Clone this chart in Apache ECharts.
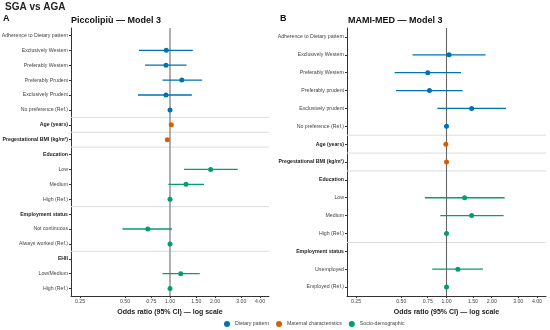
<!DOCTYPE html>
<html><head><meta charset="utf-8">
<script src="https://cdn.jsdelivr.net/npm/echarts@6/dist/echarts.min.js"></script>
<style>html,body{margin:0;padding:0;background:#fff}#c{width:550px;height:330px}</style>
</head><body><div id="c"></div>
<script>
// ---- Panel A: Piccolipiù — Model 3 ----
const catsA = ['Adherence to Dietary pattern','Exclusively Western','Preferably Western','Preferably Prudent','Exclusively Prudent','No preference (Ref.)','Age (years)','Pregestational BMI (kg/m²)','Education','Low','Medium','High (Ref.)','Employment status','Not continuous','Always worked (Ref.)','EHII','Low/Medium','High (Ref.)'];
const groupA = [0,0,0,0,0,0,1,1,2,2,2,2,2,2,2,2,2,2];
const boldA = [false,false,false,false,false,false,true,true,true,false,false,false,true,false,false,true,false,false];
const orA = [null,0.945,0.94,1.20,0.94,1.00,1.02,0.96,null,1.87,1.28,1.00,null,0.71,1.00,null,1.18,1.00];
const loA = [null,0.62,0.68,0.89,0.61,null,null,null,null,1.24,0.975,null,null,0.48,null,null,0.89,null];
const hiA = [null,1.42,1.29,1.64,1.40,null,null,null,null,2.84,1.69,null,null,1.03,null,null,1.58,null];
const sepA = [5,6,7,11,14];

// ---- Panel B: MAMI-MED — Model 3 ----
const catsB = ['Adherence to Dietary pattern','Exclusively Western','Preferably Western','Preferably prudent','Exclusively prudent','No preference (Ref.)','Age (years)','Pregestational BMI (kg/m²)','Education','Low','Medium','High (Ref.)','Employment status','Unemployed','Employed (Ref.)'];
const groupB = [0,0,0,0,0,0,1,1,2,2,2,2,2,2,2];
const boldB = [false,false,false,false,false,false,true,true,true,false,false,false,true,false,false];
const orB = [null,1.04,0.75,0.77,1.47,1.00,0.99,1.00,null,1.32,1.47,1.00,null,1.19,1.00];
const loB = [null,0.594,0.452,0.462,0.868,null,null,null,null,0.718,0.909,null,null,0.804,null];
const hiB = [null,1.82,1.25,1.28,2.49,null,null,null,null,2.44,2.40,null,null,1.75,null];
const sepB = [5,6,7,11];

const groupNames = ['Dietary pattern','Maternal characteristics','Socio-demographic'];
const groupColors = ['#0072B2','#D55E00','#009E73'];
const tickVals = [0.25,0.5,0.75,1,1.5,2,3,4];

const FONT = '"Liberation Sans", Arial, sans-serif';
const LFS = 5.2;
const chart = echarts.init(document.getElementById('c'), null, {renderer:'canvas'});

function xAxisFor(idx){
  return {
    type:'log', logBase:2, gridIndex:idx, min:Math.pow(2,-2.2), max:Math.pow(2,2.2),
    name:'Odds ratio (95% CI) — log scale', nameLocation:'middle', nameGap:7,
    nameTextStyle:{fontFamily:FONT,fontSize:7,fontWeight:'bold',color:'#222'},
    axisLine:{show:true,lineStyle:{color:'#333',width:1}},
    axisTick:{show:true,length:2,lineStyle:{color:'#333'},customValues:tickVals},
    axisLabel:{fontFamily:FONT,fontSize:LFS,color:'#444',margin:3,customValues:tickVals,
      formatter:v=>Number(v).toFixed(2)},
    splitLine:{show:false}, minorTick:{show:false}
  };
}
function yAxisFor(idx, cats, bold){
  return {
    type:'category', gridIndex:idx, data:cats, inverse:true,
    axisLine:{show:true,lineStyle:{color:'#333',width:1}},
    axisTick:{show:true,length:2,alignWithLabel:true,lineStyle:{color:'#333'}},
    axisLabel:{fontFamily:FONT,fontSize:LFS,color:'#444',margin:3,
      formatter:(v,i)=> bold[i] ? '{b|'+v+'}' : v,
      rich:{b:{fontFamily:FONT,fontSize:LFS,fontWeight:'bold',color:'#222'}}},
    splitLine:{show:false}
  };
}

function errSeries(panel, g, cats, grp, or, lo, hi){
  const data = [];
  for(let i=0;i<cats.length;i++){
    if(grp[i]===g && or[i]!=null) data.push([or[i], i, lo[i]!=null?lo[i]:or[i], hi[i]!=null?hi[i]:or[i]]);
  }
  return {
    type:'custom', name:groupNames[g], xAxisIndex:panel, yAxisIndex:panel,
    itemStyle:{color:groupColors[g]}, z:5,
    encode:{x:[0,2,3], y:1},
    renderItem:(params, api)=>{
      const c = api.coord([api.value(0), api.value(1)]);
      const l = api.coord([api.value(2), api.value(1)]);
      const h = api.coord([api.value(3), api.value(1)]);
      const col = groupColors[g];
      return {type:'group', children:[
        {type:'line', shape:{x1:l[0],y1:c[1],x2:h[0],y2:c[1]}, style:{stroke:col,lineWidth:1.3}},
        {type:'circle', shape:{cx:c[0],cy:c[1],r:2.5}, style:{fill:col}}
      ]};
    },
    data
  };
}
function sepSeries(panel, seps){
  return {
    type:'custom', xAxisIndex:panel, yAxisIndex:panel, silent:true, z:1,
    renderItem:(params, api)=>{
      const c = api.coord([1, api.value(0)]);
      const bw = api.size([0,1])[1];
      const y = c[1] + bw/2;
      const cs = params.coordSys;
      return {type:'line', shape:{x1:cs.x, y1:y, x2:cs.x+cs.width, y2:y}, style:{stroke:'#dcdcdc', lineWidth:1}};
    },
    data: seps.map(s=>[s])
  };
}
function refSeries(panel, col, w){
  return {
    type:'custom', xAxisIndex:panel, yAxisIndex:panel, silent:true, z:2,
    renderItem:(params, api)=>{
      const c = api.coord([api.value(0), 0]);
      const cs = params.coordSys;
      return {type:'line', shape:{x1:c[0], y1:cs.y, x2:c[0], y2:cs.y+cs.height}, style:{stroke:col, lineWidth:w}};
    },
    data:[[1]]
  };
}

const series = [
  sepSeries(0, sepA), sepSeries(1, sepB),
  refSeries(0, '#9a9a9a', 1.6), refSeries(1, '#666', 1.1)
];
for(let g=0; g<3; g++){
  series.push(errSeries(0, g, catsA, groupA, orA, loA, hiA));
  series.push(errSeries(1, g, catsB, groupB, orB, loB, hiB));
}

const tts = {fontFamily:FONT,fontSize:9,fontWeight:'bold',color:'#111'};
chart.setOption({
  animation:false,
  textStyle:{fontFamily:FONT},
  title:[
    {text:'SGA vs AGA', left:5, top:2, padding:0, textStyle:{fontFamily:FONT,fontSize:10,fontWeight:'bold',color:'#222'}},
    {text:'A', left:3, top:14, padding:0, textStyle:tts},
    {text:'Piccolipiù — Model 3', left:71, top:16, padding:0, textStyle:tts},
    {text:'B', left:280, top:14, padding:0, textStyle:tts},
    {text:'MAMI-MED — Model 3', left:348, top:16, padding:0, textStyle:tts}
  ],
  legend:{
    data:groupNames, left:224, top:321, padding:0, icon:'circle', itemWidth:6, itemHeight:6, itemGap:7,
    textStyle:{fontFamily:FONT,fontSize:LFS,color:'#444'}, selectedMode:false
  },
  grid:[
    {left:71, right:281, top:28, bottom:34, outerBoundsMode:'none', containLabel:false},
    {left:347, right:4, top:28, bottom:34, outerBoundsMode:'none', containLabel:false}
  ],
  xAxis:[xAxisFor(0), xAxisFor(1)],
  yAxis:[yAxisFor(0, catsA, boldA), yAxisFor(1, catsB, boldB)],
  series
});
</script></body></html>
